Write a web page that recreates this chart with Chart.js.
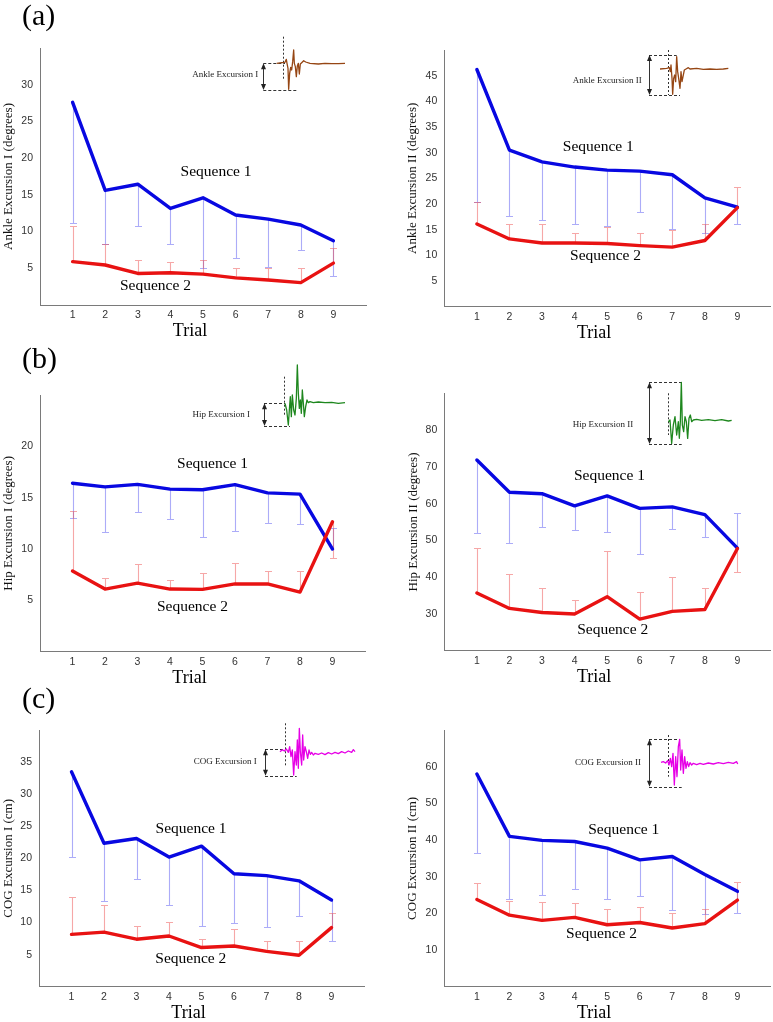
<!DOCTYPE html>
<html><head><meta charset="utf-8">
<script src="https://cdn.jsdelivr.net/npm/chart.js@4.4.1/dist/chart.umd.min.js"></script>
<style>
html,body{margin:0;padding:0;background:#fff;}
#fig{position:relative;width:773px;height:1022px;overflow:hidden;background:#fff;}
#fig canvas{position:absolute;}
</style></head><body><div id="fig"></div>
<script>
// ---------- data ----------
const trials = [1, 2, 3, 4, 5, 6, 7, 8, 9];
const trialLabels = ['1', '2', '3', '4', '5', '6', '7', '8', '9'];

// (a) Ankle Excursion I
const ankle1Seq1 = [27.6, 15.6, 16.45, 13.15, 14.6, 12.25, 11.7, 10.9, 8.75];
const ankle1Seq1Bar = [11.1, 8.3, 10.8, 8.25, 5.0, 6.35, 5.2, 7.45, 3.9];
const ankle1Seq2 = [5.9, 5.45, 4.3, 4.4, 4.2, 3.7, 3.4, 3.05, 5.7];
const ankle1Seq2Bar = [10.7, 8.3, 6.1, 5.8, 6.1, 5.1, 5.0, 5.0, 7.7];
const ankle1Ticks = [5, 10, 15, 20, 25, 30];

// (a) Ankle Excursion II
const ankle2Seq1 = [46.2, 30.5, 28.2, 27.2, 26.6, 26.4, 25.7, 21.2, 19.4];
const ankle2Seq1Bar = [20.4, 17.6, 16.85, 16.1, 15.7, 18.5, 15.2, 14.4, 16.1];
const ankle2Seq2 = [16.1, 13.2, 12.4, 12.4, 12.3, 11.9, 11.6, 12.9, 19.3];
const ankle2Seq2Bar = [20.4, 16.1, 16.1, 14.4, 15.5, 14.4, 15.0, 16.1, 23.3];
const ankle2Ticks = [5, 10, 15, 20, 25, 30, 35, 40, 45];

// (b) Hip Excursion I
const hip1Seq1 = [16.4, 16.05, 16.3, 15.83, 15.77, 16.27, 15.47, 15.35, 10.0];
const hip1Seq1Bar = [13.0, 11.63, 13.57, 12.9, 11.15, 11.8, 12.5, 12.4, 12.0];
const hip1Seq2 = [7.85, 6.1, 6.68, 6.1, 6.07, 6.6, 6.6, 5.8, 12.65];
const hip1Seq2Bar = [13.75, 7.2, 8.5, 6.95, 7.7, 8.6, 7.9, 7.9, 9.1];
const hip1Ticks = [5, 10, 15, 20];

// (b) Hip Excursion II
const hip2Seq1 = [71.85, 63.1, 62.7, 59.4, 62.1, 58.7, 59.1, 57.0, 47.9];
const hip2Seq1Bar = [52.0, 49.3, 53.6, 52.9, 52.3, 46.3, 53.2, 51.0, 57.4];
const hip2Seq2 = [35.7, 31.5, 30.4, 30.0, 34.7, 28.6, 30.7, 31.2, 47.8];
const hip2Seq2Bar = [47.9, 40.8, 37.0, 33.8, 47.2, 35.9, 40.0, 37.0, 41.4];
const hip2Ticks = [30, 40, 50, 60, 70, 80];

// (c) COG Excursion I
const cog1Seq1 = [33.5, 22.36, 23.1, 20.2, 21.9, 17.6, 17.3, 16.5, 13.5];
const cog1Seq1Bar = [20.2, 13.4, 16.8, 12.7, 9.4, 9.9, 9.3, 11.0, 7.1];
const cog1Seq2 = [8.15, 8.5, 7.4, 7.9, 6.1, 6.35, 5.5, 4.9, 9.2];
const cog1Seq2Bar = [13.95, 12.8, 9.4, 10.05, 7.4, 9.0, 7.1, 7.1, 11.45];
const cog1Ticks = [5, 10, 15, 20, 25, 30, 35];

// (c) COG Excursion II
const cog2Seq1 = [58.0, 41.0, 39.9, 39.6, 37.8, 34.6, 35.5, 30.6, 26.0];
const cog2Seq1Bar = [36.45, 23.8, 24.9, 26.7, 23.9, 24.7, 21.0, 19.7, 20.2];
const cog2Seq2 = [23.8, 19.5, 18.1, 18.9, 16.9, 17.5, 16.0, 17.2, 23.6];
const cog2Seq2Bar = [28.4, 23.3, 23.2, 22.9, 21.1, 21.7, 20.0, 21.1, 28.6];
const cog2Ticks = [10, 20, 30, 40, 50, 60];

// schematic inset traces (sketch outlines, in 1/3-pixel units relative to inset origin)
const waveAnkle1 = [[275,100],[290,98],[300,97],[304,88],[306,100],[309,115],[311,178],[314,130],[317,112],[320,120],[323,95],[326,60],[328,100],[331,110],[334,140],[337,108],[340,100],[343,132],[346,102],[350,98],[356,92],[362,96],[375,100],[400,102],[420,100],[440,101],[460,101],[480,100]];
const waveAnkle2 = [[270,72],[290,70],[298,68],[301,80],[303,60],[306,100],[308,148],[311,100],[314,90],[317,110],[320,35],[323,80],[326,100],[330,130],[333,80],[336,110],[339,95],[343,75],[348,72],[355,68],[360,72],[380,70],[400,73],[420,72],[440,73],[460,72],[475,70]];
const waveHip1 = [[300,130],[305,150],[310,195],[313,150],[316,110],[319,170],[322,105],[326,150],[330,165],[334,115],[337,15],[340,100],[343,145],[346,120],[349,160],[352,90],[355,130],[358,170],[362,140],[366,120],[370,128],[375,125],[385,128],[400,126],[420,128],[440,127],[460,130],[480,128]];
const waveHip2 = [[310,140],[315,135],[320,205],[325,150],[330,125],[335,180],[340,140],[343,190],[346,140],[349,22],[352,150],[356,170],[360,125],[364,140],[368,190],[372,130],[376,120],[380,140],[385,135],[395,133],[410,136],[430,134],[450,137],[470,134],[490,138],[500,136]];
const waveCog1 = [[285,110],[292,104],[298,108],[304,102],[310,112],[314,95],[318,125],[322,105],[326,180],[330,110],[334,150],[337,75],[340,160],[343,40],[346,110],[350,150],[353,60],[356,135],[360,95],[364,110],[368,130],[372,105],[376,118],[380,112],[385,120],[390,115],[400,118],[410,114],[420,119],[430,113],[440,117],[450,112],[460,116],[470,110],[480,114],[490,108],[500,112],[505,104],[510,110]];
const waveCog2 = [[288,97],[295,95],[302,99],[308,92],[312,105],[316,85],[320,110],[324,70],[328,165],[332,80],[336,140],[340,50],[344,28],[347,120],[351,60],[355,130],[359,80],[363,115],[367,95],[371,110],[375,98],[380,105],[385,100],[395,104],[405,100],[415,103],[430,99],[445,102],[460,98],[475,101],[490,97],[505,100],[515,95],[518,102]];

// ---------- layout / style ----------
const BLUE = 'rgb(8,8,225)';
const RED = 'rgb(232,18,18)';
const BLUE_BAR = 'rgba(70,70,240,0.45)';
const RED_BAR = 'rgba(235,60,60,0.45)';
const AXIS = '#7a7a7a';
const SERIF = "'Liberation Serif','Times New Roman',serif";
const SANS = "'Liberation Sans',Arial,sans-serif";

const panels = [
  { canvas:{x:0,y:0,w:386,h:345}, area:{l:40,t:48,r:366,b:305}, yMin:0, yMax:35, yTicks:ankle1Ticks,
    yTitle:'Ankle Excursion I (degrees)', titleCx:9,
    s1:ankle1Seq1, s1b:ankle1Seq1Bar, s2:ankle1Seq2, s2b:ankle1Seq2Bar,
    lab1:[5.4,18.1], lab2:[3.54,2.6], panelLabel:'(a)', panelLabelY:17.5,
    inset:{text:'Ankle Excursion I', textR:258.3, textY:75, ax:263.3, top:63.3, bot:90, topEnd:285, botEnd:296.7,
      vx:283.3, vy1:36.7, vy2:80, ox:185, oy:30, wave:waveAnkle1, color:'rgb(150,70,20)'} },
  { canvas:{x:386,y:0,w:387,h:345}, area:{l:444.3,t:50,r:770,b:306.7}, yMin:0, yMax:50, yTicks:ankle2Ticks,
    yTitle:'Ankle Excursion II (degrees)', titleCx:413,
    s1:ankle2Seq1, s1b:ankle2Seq1Bar, s2:ankle2Seq2, s2b:ankle2Seq2Bar,
    lab1:[4.73,31.2], lab2:[4.95,9.85],
    inset:{text:'Ankle Excursion II', textR:641.7, textY:81, ax:649, top:55, bot:95, topEnd:676.7, botEnd:680,
      vx:667.7, vy1:50, vy2:95, ox:570, oy:45, wave:waveAnkle2, color:'rgb(150,70,20)'} },
  { canvas:{x:0,y:338,w:386,h:350}, area:{l:40,t:395,r:365,b:651.7}, yMin:0, yMax:25, yTicks:hip1Ticks,
    yTitle:'Hip Excursion I (degrees)', titleCx:9,
    s1:hip1Seq1, s1b:hip1Seq1Bar, s2:hip1Seq2, s2b:hip1Seq2Bar,
    lab1:[5.31,18.3], lab2:[4.69,4.4], panelLabel:'(b)', panelLabelY:360,
    inset:{text:'Hip Excursion I', textR:250, textY:415, ax:264, top:403.3, bot:426, topEnd:285, botEnd:290,
      vx:284, vy1:376.7, vy2:415, ox:185, oy:360, wave:waveHip1, color:'rgb(30,135,30)'} },
  { canvas:{x:386,y:338,w:387,h:350}, area:{l:444.3,t:393.3,r:770,b:650.7}, yMin:20, yMax:90, yTicks:hip2Ticks,
    yTitle:'Hip Excursion II (degrees)', titleCx:414,
    s1:hip2Seq1, s1b:hip2Seq1Bar, s2:hip2Seq2, s2b:hip2Seq2Bar,
    lab1:[5.07,67.4], lab2:[5.17,25.7],
    inset:{text:'Hip Excursion II', textR:633.3, textY:424.3, ax:649, top:382.3, bot:444, topEnd:682.3, botEnd:681.7,
      vx:667.7, vy1:393.3, vy2:435, ox:565, oy:375, wave:waveHip2, color:'rgb(30,135,30)'} },
  { canvas:{x:0,y:672,w:386,h:350}, area:{l:39,t:730,r:364,b:986.7}, yMin:0, yMax:40, yTicks:cog1Ticks,
    yTitle:'COG Excursion I (cm)', titleCx:9,
    s1:cog1Seq1, s1b:cog1Seq1Bar, s2:cog1Seq2, s2b:cog1Seq2Bar,
    lab1:[4.68,24.6], lab2:[4.67,4.4], panelLabel:'(c)', panelLabelY:700,
    inset:{text:'COG Excursion I', textR:256.7, textY:761.7, ax:265, top:749.3, bot:775.7, topEnd:285, botEnd:296.7,
      vx:285, vy1:723.3, vy2:766.7, ox:185, oy:715, wave:waveCog1, color:'rgb(230,0,230)'} },
  { canvas:{x:386,y:672,w:387,h:350}, area:{l:444.3,t:730,r:770,b:986.7}, yMin:0, yMax:70, yTicks:cog2Ticks,
    yTitle:'COG Excursion II (cm)', titleCx:413,
    s1:cog2Seq1, s1b:cog2Seq1Bar, s2:cog2Seq2, s2b:cog2Seq2Bar,
    lab1:[5.51,42.8], lab2:[4.83,14.4],
    inset:{text:'COG Excursion II', textR:641, textY:762.3, ax:649, top:739.3, bot:786.7, topEnd:680, botEnd:681.7,
      vx:668.3, vy1:735, vy2:776.7, ox:565, oy:730, wave:waveCog2, color:'rgb(230,0,230)'} }
];

const X_AXIS_H = 20;

function drawBars(ctx, xs, ys, vals, tips, color) {
  ctx.save();
  ctx.strokeStyle = color;
  ctx.lineWidth = 1.1;
  for (let i = 0; i < trials.length; i++) {
    const x = Math.round(xs.getPixelForValue(trials[i])) + 0.5;
    const y0 = ys.getPixelForValue(vals[i]);
    const y1 = Math.round(ys.getPixelForValue(tips[i])) + 0.5;
    ctx.beginPath();
    ctx.moveTo(x, y0); ctx.lineTo(x, y1);
    ctx.moveTo(x - 3.5, y1); ctx.lineTo(x + 3.5, y1);
    ctx.stroke();
  }
  ctx.restore();
}

function drawInset(ctx, ins, cx, cy) {
  const X = v => v - cx, Y = v => v - cy;
  ctx.save();
  ctx.fillStyle = '#222';
  ctx.font = '9px ' + SERIF;
  ctx.textAlign = 'right';
  ctx.textBaseline = 'middle';
  ctx.fillText(ins.text, X(ins.textR), Y(ins.textY));
  ctx.strokeStyle = '#333';
  ctx.lineWidth = 1;
  ctx.setLineDash([3, 2]);
  ctx.beginPath();
  ctx.moveTo(X(ins.ax), Math.round(Y(ins.top)) + 0.5); ctx.lineTo(X(ins.topEnd), Math.round(Y(ins.top)) + 0.5);
  ctx.moveTo(X(ins.ax), Math.round(Y(ins.bot)) + 0.5); ctx.lineTo(X(ins.botEnd), Math.round(Y(ins.bot)) + 0.5);
  ctx.stroke();
  ctx.setLineDash([2, 2]);
  ctx.beginPath();
  ctx.moveTo(Math.round(X(ins.vx)) + 0.5, Y(ins.vy1)); ctx.lineTo(Math.round(X(ins.vx)) + 0.5, Y(ins.vy2));
  ctx.stroke();
  ctx.setLineDash([]);
  const ax = Math.round(X(ins.ax)) + 0.5;
  ctx.beginPath();
  ctx.moveTo(ax, Y(ins.top) + 3); ctx.lineTo(ax, Y(ins.bot) - 3);
  ctx.stroke();
  ctx.fillStyle = '#222';
  ctx.beginPath();
  ctx.moveTo(ax, Y(ins.top)); ctx.lineTo(ax - 2.5, Y(ins.top) + 6); ctx.lineTo(ax + 2.5, Y(ins.top) + 6); ctx.closePath();
  ctx.moveTo(ax, Y(ins.bot)); ctx.lineTo(ax - 2.5, Y(ins.bot) - 6); ctx.lineTo(ax + 2.5, Y(ins.bot) - 6); ctx.closePath();
  ctx.fill();
  ctx.strokeStyle = ins.color;
  ctx.lineWidth = 1.3;
  ctx.lineJoin = 'round';
  ctx.beginPath();
  ins.wave.forEach((p, i) => {
    const px = X(ins.ox + p[0] / 3), py = Y(ins.oy + p[1] / 3);
    if (i === 0) ctx.moveTo(px, py); else ctx.lineTo(px, py);
  });
  ctx.stroke();
  ctx.restore();
}

const fig = document.getElementById('fig');

panels.forEach(p => {
  const c = p.canvas, a = p.area;
  const cv = document.createElement('canvas');
  cv.width = c.w; cv.height = c.h;
  cv.style.left = c.x + 'px'; cv.style.top = c.y + 'px';
  cv.style.width = c.w + 'px'; cv.style.height = c.h + 'px';
  fig.appendChild(cv);

  const yAxisW = a.l - c.x;
  const padTop = a.t - c.y;
  const padRight = c.x + c.w - a.r;
  const padBottom = c.y + c.h - a.b - X_AXIS_H;
  const titleLH = 13 * 1.2;
  const titlePad = Math.max(0, p.titleCx - c.x - titleLH / 2);

  const decor = {
    id: 'decor',
    beforeDatasetsDraw(chart) {
      const ctx = chart.ctx, xs = chart.scales.x, ys = chart.scales.y;
      drawBars(ctx, xs, ys, p.s1, p.s1b, BLUE_BAR);
      drawBars(ctx, xs, ys, p.s2, p.s2b, RED_BAR);
    },
    afterDraw(chart) {
      const ctx = chart.ctx, xs = chart.scales.x, ys = chart.scales.y;
      ctx.save();
      ctx.fillStyle = '#000';
      ctx.font = '15.5px ' + SERIF;
      ctx.textAlign = 'center';
      ctx.textBaseline = 'middle';
      ctx.fillText('Sequence 1', xs.getPixelForValue(p.lab1[0]), ys.getPixelForValue(p.lab1[1]));
      ctx.fillText('Sequence 2', xs.getPixelForValue(p.lab2[0]), ys.getPixelForValue(p.lab2[1]));
      ctx.font = '18px ' + SERIF;
      ctx.textBaseline = 'alphabetic';
      ctx.fillText('Trial', xs.getPixelForValue(4.6), chart.chartArea.bottom + 31);
      if (p.panelLabel) {
        ctx.font = '30px ' + SERIF;
        ctx.textAlign = 'left';
        ctx.textBaseline = 'middle';
        ctx.fillText(p.panelLabel, 22 - c.x, p.panelLabelY - c.y);
      }
      ctx.restore();
      drawInset(ctx, p.inset, c.x, c.y);
    }
  };

  new Chart(cv, {
    type: 'line',
    data: {
      datasets: [
        { label: 'Sequence 2', data: trials.map((t, i) => ({x: t, y: p.s2[i]})), borderColor: RED,
          borderWidth: 3.4, pointRadius: 0, tension: 0, borderCapStyle: 'round', borderJoinStyle: 'round' },
        { label: 'Sequence 1', data: trials.map((t, i) => ({x: t, y: p.s1[i]})), borderColor: BLUE,
          borderWidth: 3.4, pointRadius: 0, tension: 0, borderCapStyle: 'round', borderJoinStyle: 'round' }
      ]
    },
    options: {
      responsive: false,
      animation: false,
      events: [],
      layout: { padding: { left: 0, top: padTop, right: padRight, bottom: padBottom } },
      plugins: { legend: { display: false }, tooltip: { enabled: false }, title: { display: false } },
      scales: {
        x: {
          type: 'linear', min: 0, max: 10,
          afterBuildTicks: s => { s.ticks = trials.map(v => ({value: v})); },
          afterFit: s => { s.height = X_AXIS_H; },
          ticks: { callback: (v, i) => trialLabels[i], font: { family: SANS, size: 10.5 }, color: '#333',
                   padding: 4, maxRotation: 0, autoSkip: false },
          grid: { display: false, drawTicks: false },
          border: { display: true, color: AXIS, width: 1 }
        },
        y: {
          type: 'linear', min: p.yMin, max: p.yMax,
          afterBuildTicks: s => { s.ticks = p.yTicks.map(v => ({value: v})); },
          afterFit: s => { s.width = yAxisW; },
          ticks: { callback: (v, i) => String(p.yTicks[i]), font: { family: SANS, size: 10.5 }, color: '#333',
                   padding: 7, autoSkip: false },
          grid: { display: false, drawTicks: false },
          border: { display: true, color: AXIS, width: 1 },
          title: { display: true, text: p.yTitle, font: { family: SERIF, size: 13 }, color: '#111',
                   padding: { top: titlePad, bottom: 0 } }
        }
      }
    },
    plugins: [decor]
  });
});
</script>
</body></html>
